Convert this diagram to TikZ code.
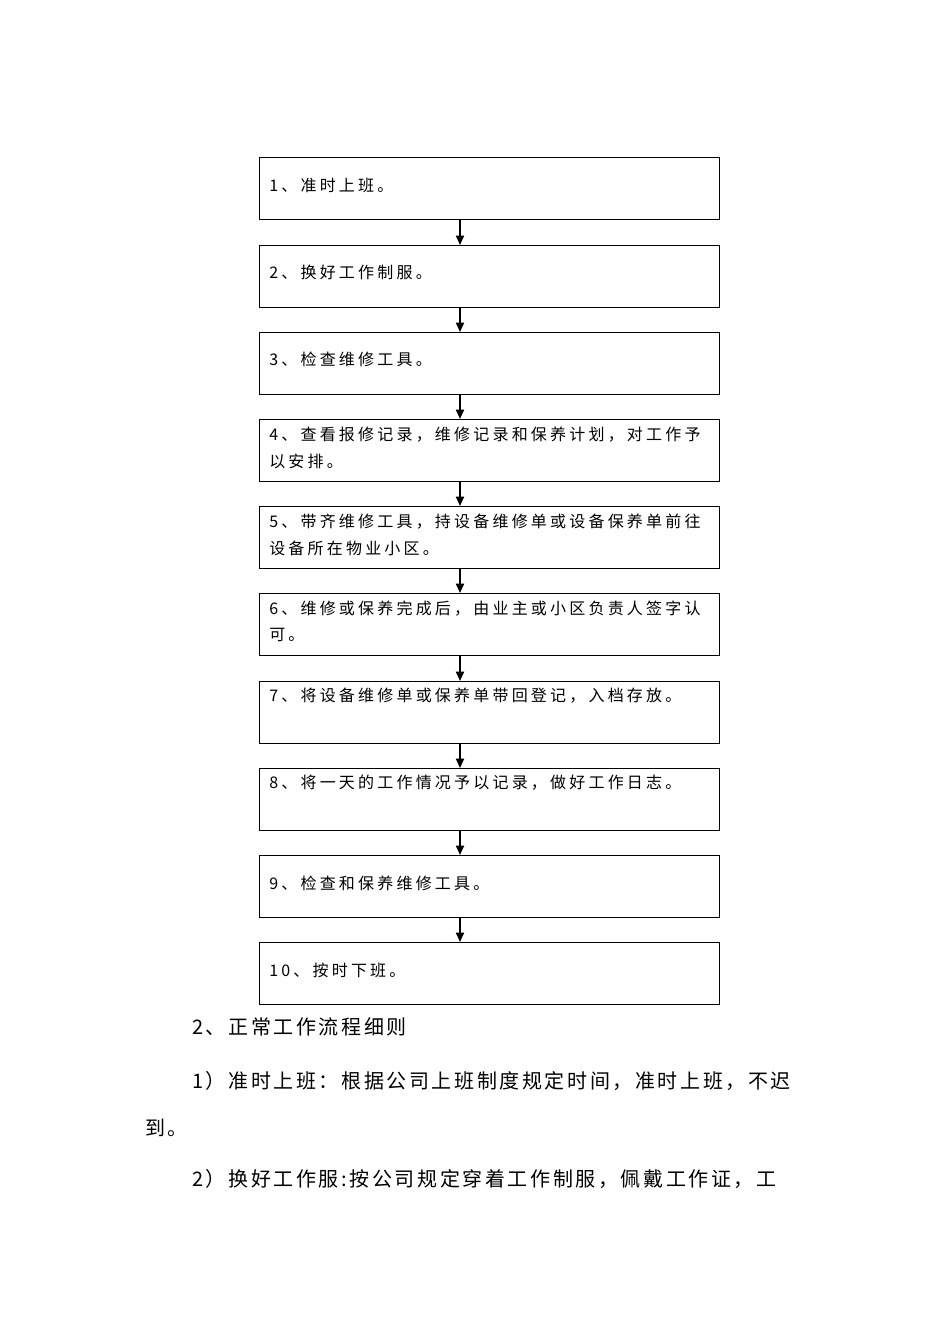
\documentclass[tikz,border=0pt]{standalone}
\usepackage{fontspec}
\newfontfamily\cjk[LetterSpace=20]{Noto Sans CJK SC}
\newfontfamily\cjkb[LetterSpace=13]{Noto Sans CJK SC}
\usetikzlibrary{arrows.meta}
\begin{document}
\begin{tikzpicture}[x=0.75pt,y=-0.75pt,
  stepbox/.style={draw,line width=1pt,minimum width=460*0.75pt,minimum height=62*0.75pt,anchor=north west,inner sep=0pt},
  lbl/.style={anchor=west,inner sep=0pt,font=\cjk\fontsize{12pt}{14pt}\selectfont},
  para/.style={anchor=west,inner sep=0pt,font=\cjkb\fontsize{15pt}{18pt}\selectfont},
  arr/.style={-{Triangle[length=7pt,width=6pt]},line width=1.3pt}]
\useasboundingbox (0,0) rectangle (950,1344);
\foreach \i/\y in {1/157,2/245,3/332,4/419,5/506,6/593,7/681,8/768,9/855,10/942}{
  \node[stepbox] (b\i) at (259,\y) {};
  \coordinate (s\i) at (460,\y+62);
  \coordinate (n\i) at (460,\y);
}
\foreach \a/\b in {1/2,2/3,3/4,4/5,5/6,6/7,7/8,8/9,9/10}{
  \draw[arr] (s\a) -- (n\b);
}
\node[lbl] (t1) at (269,185) {1、准时上班。};
\node[lbl] (t2) at (269,272) {2、换好工作制服。};
\node[lbl] (t3) at (269,359) {3、检查维修工具。};
\node[lbl] (t4a) at (269,435) {4、查看报修记录，维修记录和保养计划，对工作予};
\node[lbl] (t4b) at (269,461) {以安排。};
\node[lbl] (t5a) at (269,522) {5、带齐维修工具，持设备维修单或设备保养单前往};
\node[lbl] (t5b) at (269,548) {设备所在物业小区。};
\node[lbl] (t6a) at (269,609) {6、维修或保养完成后，由业主或小区负责人签字认};
\node[lbl] (t6b) at (269,635) {可。};
\node[lbl] (t7) at (269,696) {7、将设备维修单或保养单带回登记，入档存放。};
\node[lbl] (t8) at (269,783) {8、将一天的工作情况予以记录，做好工作日志。};
\node[lbl] (t9) at (269,883) {9、检查和保养维修工具。};
\node[lbl] (t10) at (269,970) {10、按时下班。};
\node[para] (p1) at (192,1027) {2、正常工作流程细则};
\node[para] (p2) at (192,1081) {1）准时上班：根据公司上班制度规定时间，准时上班，不迟};
\node[para] (p3) at (145,1128) {到。};
\node[para] (p4) at (192,1179) {2）换好工作服:按公司规定穿着工作制服，佩戴工作证，工};
\end{tikzpicture}
\end{document}
